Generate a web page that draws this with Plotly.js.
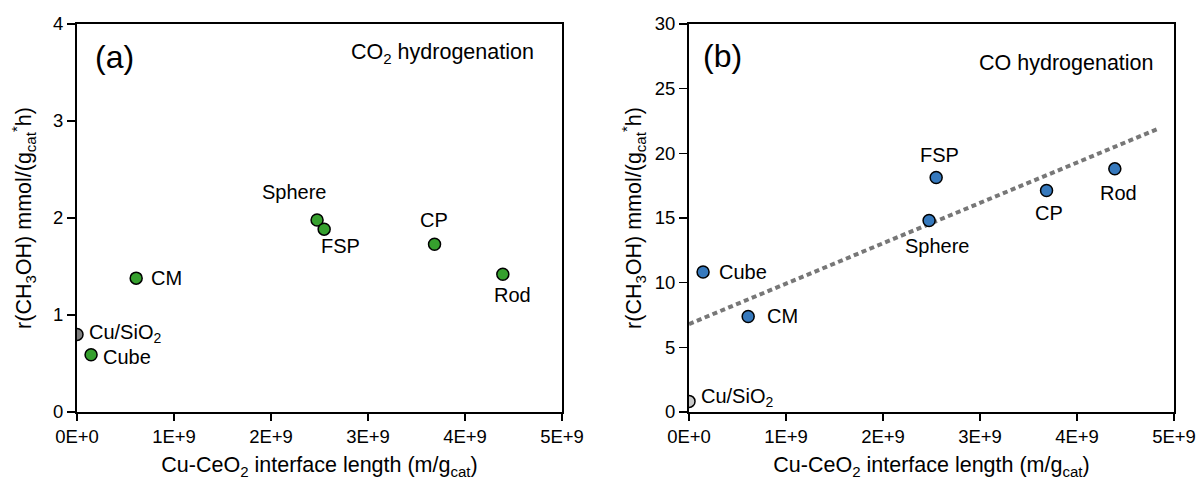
<!DOCTYPE html>
<html>
<head>
<meta charset="utf-8">
<script src="https://cdn.plot.ly/plotly-3.0.1.min.js"></script>
<style>
  html, body { margin: 0; padding: 0; background: #fff; }
  #chart { width: 1198px; height: 484px; }
</style>
</head>
<body>
<div id="chart"></div>
<script>
// ---- data ----
const catalysts = ['Cu/SiO<sub>2</sub>', 'Cube', 'CM', 'Sphere', 'FSP', 'CP', 'Rod'];
const interfaceLength = [0, 0.145e9, 0.61e9, 2.475e9, 2.548e9, 3.686e9, 4.39e9];
const rateCO2 = [0.80, 0.59, 1.38, 1.98, 1.885, 1.73, 1.42];
const rateCO = [0.82, 10.82, 7.39, 14.81, 18.13, 17.12, 18.80];
const trendX = [0, 4.824e9];
const trendY = [6.80, 21.86];
const xTickVals = [0, 1e9, 2e9, 3e9, 4e9, 5e9];
const xTickText = ['0E+0', '1E+9', '2E+9', '3E+9', '4E+9', '5E+9'];
const yTickValsA = [0, 1, 2, 3, 4];
const yTickValsB = [0, 5, 10, 15, 20, 25, 30];

// ---- styling ----
const FONT = 'Liberation Sans, Arial, sans-serif';
const W = 1198, H = 484;
const plotTop = 24, plotBottom = 412;
const domA = [77 / W, 562 / W];
const domB = [689 / W, 1174 / W];
const colorsA = ['#808080', '#36a02e', '#36a02e', '#36a02e', '#36a02e', '#36a02e', '#36a02e'];
const colorsB = ['#c8c8c8', '#3679bd', '#3679bd', '#3679bd', '#3679bd', '#3679bd', '#3679bd'];

// label placement: [xanchor, xshift, yshift]
const labelPosA = [['left', 10, 1], ['left', 10, -2], ['left', 13, 0], ['center', -23, 28],
                   ['center', 16, -17], ['center', -1, 24], ['center', 10, -21]];
const labelPosB = [['left', 10, 4], ['left', 14, 0], ['left', 17, 0], ['center', 8, -26],
                   ['center', 3, 23], ['center', 2, -22], ['center', 4, -24]];

const markerStyle = (colors) => ({ size: 12, color: colors, line: { color: '#000', width: 1.5 } });

const traces = [
  { x: interfaceLength, y: rateCO2, xaxis: 'x', yaxis: 'y', mode: 'markers', type: 'scatter',
    marker: markerStyle(colorsA), hoverinfo: 'skip', showlegend: false },
  { x: trendX, y: trendY, xaxis: 'x2', yaxis: 'y2', mode: 'lines', type: 'scatter',
    line: { color: '#777777', width: 4, dash: '5px,3.5px' }, hoverinfo: 'skip', showlegend: false },
  { x: interfaceLength, y: rateCO, xaxis: 'x2', yaxis: 'y2', mode: 'markers', type: 'scatter',
    marker: markerStyle(colorsB), hoverinfo: 'skip', showlegend: false }
];

const LBL = 20;
const annotations = [];
catalysts.forEach((c, i) => {
  annotations.push({ x: interfaceLength[i], y: rateCO2[i], xref: 'x', yref: 'y', text: c,
    showarrow: false, xanchor: labelPosA[i][0], yanchor: 'middle',
    xshift: labelPosA[i][1], yshift: labelPosA[i][2], font: { family: FONT, size: LBL, color: '#000' } });
  annotations.push({ x: interfaceLength[i], y: rateCO[i], xref: 'x2', yref: 'y2', text: c,
    showarrow: false, xanchor: labelPosB[i][0], yanchor: 'middle',
    xshift: labelPosB[i][1], yshift: labelPosB[i][2], font: { family: FONT, size: LBL, color: '#000' } });
});
const py = (p) => (plotBottom - p) / (plotBottom - plotTop);
annotations.push({ xref: 'paper', yref: 'paper', x: 93 / W, y: py(57), xanchor: 'left', yanchor: 'middle',
  text: '(a)', showarrow: false, font: { family: FONT, size: 32, color: '#000' } });
annotations.push({ xref: 'paper', yref: 'paper', x: 701 / W, y: py(56), xanchor: 'left', yanchor: 'middle',
  text: '(b)', showarrow: false, font: { family: FONT, size: 32, color: '#000' } });
annotations.push({ xref: 'paper', yref: 'paper', x: 536 / W, y: py(54), xanchor: 'right', yanchor: 'middle',
  text: 'CO<sub>2</sub> hydrogenation', showarrow: false, font: { family: FONT, size: 21.5, color: '#000' } });
annotations.push({ xref: 'paper', yref: 'paper', x: 1156 / W, y: py(63), xanchor: 'right', yanchor: 'middle',
  text: 'CO hydrogenation', showarrow: false, font: { family: FONT, size: 21.5, color: '#000' } });

const xAxisBase = (dom, anchor) => ({
  domain: dom, anchor: anchor, range: [0, 5e9], tickmode: 'array', tickvals: xTickVals, ticktext: xTickText,
  ticks: 'outside', ticklen: 7, tickwidth: 1.5, tickcolor: '#000',
  showline: true, linecolor: '#000', linewidth: 2, mirror: true, showgrid: false, zeroline: false,
  tickfont: { family: FONT, size: 18.5, color: '#000' },
  title: { text: 'Cu-CeO<sub>2</sub> interface length (m/g<sub>cat</sub>)', font: { family: FONT, size: 21.5, color: '#000' }, standoff: 11 }
});
const yAxisBase = (range, vals, anchor, standoff) => ({
  anchor: anchor, range: range, tickmode: 'array', tickvals: vals, ticktext: vals.map(String),
  ticks: 'outside', ticklen: 8, tickwidth: 1.5, tickcolor: '#000',
  showline: true, linecolor: '#000', linewidth: 2, mirror: true, showgrid: false, zeroline: false,
  tickfont: { family: FONT, size: 18.5, color: '#000' },
  title: { text: 'r(CH<sub>3</sub>OH) mmol/(g<sub>cat</sub><sup>*</sup>h)', font: { family: FONT, size: 21.5, color: '#000' }, standoff: standoff }
});

const layout = {
  width: W, height: H,
  margin: { l: 0, r: 0, t: plotTop, b: H - plotBottom },
  paper_bgcolor: '#fff', plot_bgcolor: '#fff',
  xaxis: xAxisBase(domA, 'y'),
  yaxis: yAxisBase([0, 4], yTickValsA, 'x', 15),
  xaxis2: xAxisBase(domB, 'y2'),
  yaxis2: yAxisBase([0, 30], yTickValsB, 'x2', 7),
  annotations: annotations,
  showlegend: false
};

Plotly.newPlot('chart', traces, layout, { displayModeBar: false, staticPlot: true });
</script>
</body>
</html>
